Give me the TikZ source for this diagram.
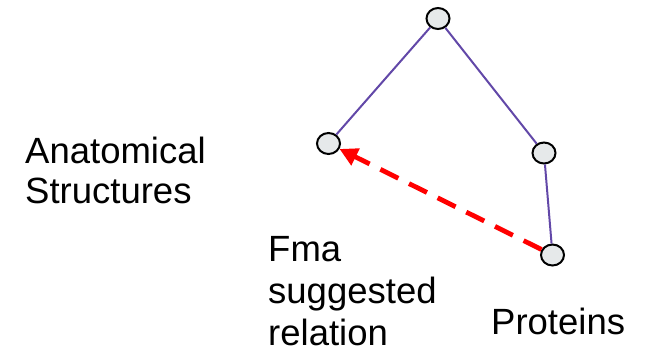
\documentclass[tikz,border=0pt]{standalone}
\usepackage{fontspec}
\setmainfont{Liberation Sans}
\usetikzlibrary{shapes.geometric,arrows.meta}
\definecolor{vertexfill}{RGB}{230,233,234}
\definecolor{edgepurple}{RGB}{98,72,168}
\definecolor{relred}{RGB}{255,0,0}
\tikzset{
  vertex/.style={ellipse, draw=black, line width=2pt, fill=vertexfill,
                 minimum width=23pt, minimum height=21pt, inner sep=0pt},
  edge/.style={draw=edgepurple, line width=2pt},
  suggested/.style={draw=relred, line width=4.8pt, dash pattern=on 20pt off 12pt,
                    -{Triangle[length=18pt,width=18pt]}},
  label/.style={align=left, inner sep=0pt, anchor=base west}
}
\begin{document}
\begin{tikzpicture}[x=1pt,y=-1pt]
  \useasboundingbox (0,0) rectangle (654,354);
  % graph vertices
  \node[vertex] (top)   at (438,18.5) {};
  \node[vertex] (anat)  at (328.5,143.5) {};
  \node[vertex] (mid)   at (544,153) {};
  \node[vertex] (prot)  at (552.5,255) {};
  % hierarchy edges
  \draw[edge] (top) -- (anat);
  \draw[edge] (top) -- (mid);
  \draw[edge] (mid) -- (prot);
  % suggested relation
  \draw[suggested] (prot) -- (anat);
  % labels (anchored on the baseline of their last line)
  \node[label, font=\fontsize{36.5}{40}\selectfont] (lanat) at (25,203) {Anatomical\\Structures};
  \node[label, font=\fontsize{36.5}{42}\selectfont] (lfma)  at (268,345) {Fma\\suggested\\relation};
  \node[label, font=\fontsize{36.5}{40}\selectfont] (lprot) at (491,334) {Proteins};
\end{tikzpicture}
\end{document}
